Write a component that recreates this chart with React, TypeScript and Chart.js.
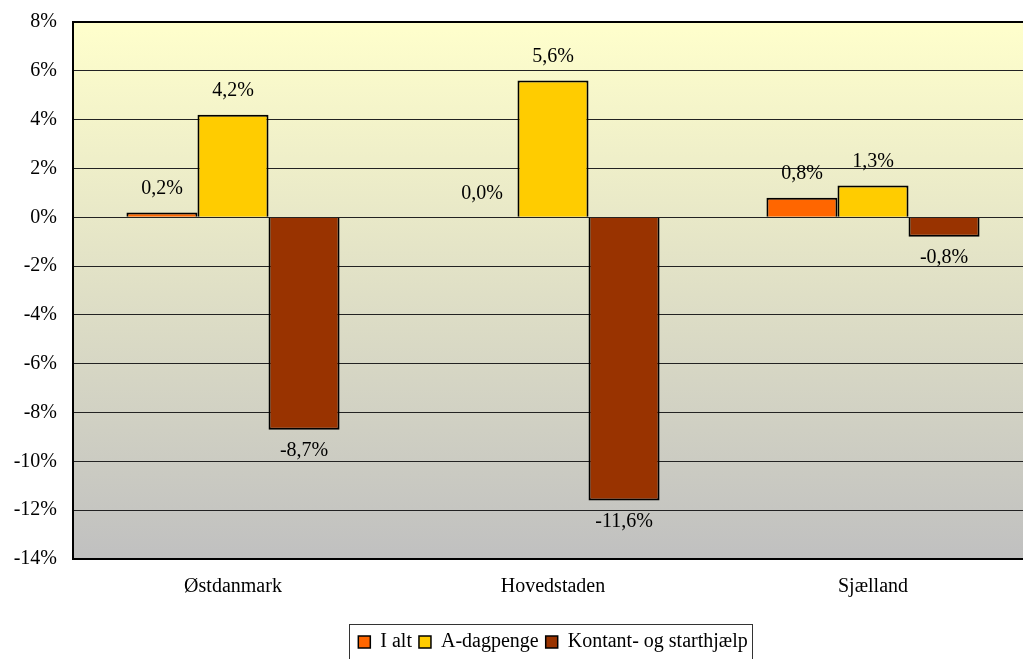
import React, { useEffect, useRef } from "react";
import { Chart, registerables } from "chart.js";

Chart.register(...registerables);

const categories = ["Østdanmark", "Hovedstaden", "Sjælland"];
const seriesNames = ["I alt", "A-dagpenge", "Kontant- og starthjælp"];
const iAlt = [0.2, 0.0, 0.8];
const aDagpenge = [4.2, 5.6, 1.3];
const kontant = [-8.7, -11.6, -0.8];
const seriesColors = ["#FF6600", "#FFCC00", "#993300"];
const yMin = -14;
const yMax = 8;
const yStep = 2;

const FONT = "'Liberation Serif', 'Times New Roman', serif";
const FS = 20;

const bgPlugin = {
  id: "bgGradient",
  beforeDraw(chart: any) {
    const { ctx, chartArea } = chart;
    const g = ctx.createLinearGradient(0, chartArea.top, 0, chartArea.bottom);
    g.addColorStop(0, "#FFFFCC");
    g.addColorStop(1, "#C0C0C0");
    ctx.save();
    ctx.fillStyle = g;
    ctx.fillRect(chartArea.left, chartArea.top, chartArea.right - chartArea.left, chartArea.bottom - chartArea.top);
    ctx.restore();
  },
  afterDraw(chart: any) {
    const { ctx, chartArea } = chart;
    ctx.save();
    ctx.strokeStyle = "#000";
    ctx.lineWidth = 2;
    ctx.beginPath();
    ctx.moveTo(chartArea.right + 2, chartArea.top);
    ctx.lineTo(chartArea.left, chartArea.top);
    ctx.lineTo(chartArea.left, chartArea.bottom);
    ctx.lineTo(chartArea.right + 2, chartArea.bottom);
    ctx.stroke();
    const lg = chart.legend;
    if (lg && lg.legendHitBoxes && lg.legendHitBoxes.length) {
      const boxes = lg.legendHitBoxes;
      const minX = Math.min(...boxes.map((b: any) => b.left));
      const maxX = Math.max(...boxes.map((b: any) => b.left + b.width));
      ctx.lineWidth = 1;
      ctx.strokeStyle = "#333";
      ctx.strokeRect(Math.round(minX) - 8.5, Math.round(lg.top) - 0.5, Math.round(maxX - minX) + 14, 60);
    }
    ctx.restore();
  },
};

const labelPlugin = {
  id: "valueLabels",
  afterDatasetsDraw(chart: any) {
    const { ctx } = chart;
    ctx.save();
    ctx.font = `${FS}px ${FONT}`;
    ctx.fillStyle = "#000";
    ctx.textAlign = "center";
    ctx.textBaseline = "middle";
    chart.data.datasets.forEach((ds: any, di: number) => {
      const meta = chart.getDatasetMeta(di);
      meta.data.forEach((bar: any, i: number) => {
        const v = ds.data[i];
        const txt = v.toFixed(1).replace(".", ",") + "%";
        const y = v >= 0 ? bar.y - 24 : bar.y + 21;
        ctx.fillText(txt, bar.x, y);
      });
    });
    ctx.restore();
  },
};

export default function App() {
  const ref = useRef<HTMLCanvasElement>(null);
  useEffect(() => {
    document.documentElement.style.overflow = "hidden";
    document.body.style.overflow = "hidden";
    const chart = new Chart(ref.current!, {
      type: "bar",
      data: {
        labels: categories,
        datasets: [iAlt, aDagpenge, kontant].map((d, i) => ({
          label: seriesNames[i],
          data: d,
          backgroundColor: seriesColors[i],
          borderColor: "#000",
          borderWidth: 2,
          barPercentage: 1,
          categoryPercentage: 0.666,
        })),
      },
      options: {
        responsive: false,
        animation: false,
        layout: { padding: { top: 22, bottom: -3, left: 0, right: 0 } },
        plugins: {
          tooltip: { enabled: false },
          legend: {
            position: "bottom",
            fullSize: false,
            labels: {
              font: { family: FONT, size: FS },
              color: "#000",
              boxWidth: 12,
              boxHeight: 12,
              padding: 7,
              generateLabels: (c: any) =>
                c.data.datasets.map((ds: any, i: number) => ({
                  text: ds.label,
                  fillStyle: seriesColors[i],
                  strokeStyle: "#000",
                  lineWidth: 1.5,
                  datasetIndex: i,
                  fontColor: "#000",
                })),
            },
          },
        },
        scales: {
          x: {
            grid: { display: false, drawTicks: false },
            border: { display: false },
            ticks: { font: { family: FONT, size: FS }, color: "#000", padding: 16 },
            afterFit: (s: any) => {
              s.height = 66;
              s.paddingLeft = 0;
              s.paddingRight = 0;
            },
          },
          y: {
            min: yMin,
            max: yMax,
            grid: { color: "#222", lineWidth: 1, drawTicks: false },
            border: { display: false },
            ticks: {
              stepSize: yStep,
              font: { family: FONT, size: FS },
              color: "#000",
              padding: 16,
              callback: (v: any) => v + "%",
            },
            afterFit: (s: any) => {
              s.width = 73;
              s.paddingTop = 0;
              s.paddingBottom = 0;
            },
          },
        },
      },
      plugins: [bgPlugin, labelPlugin],
    });
    return () => chart.destroy();
  }, []);
  return (
    <div style={{ position: "absolute", left: 0, top: 0, width: 1033, height: 659, overflow: "hidden" }}>
      <canvas ref={ref} width={1033} height={659} style={{ display: "block" }} />
    </div>
  );
}
